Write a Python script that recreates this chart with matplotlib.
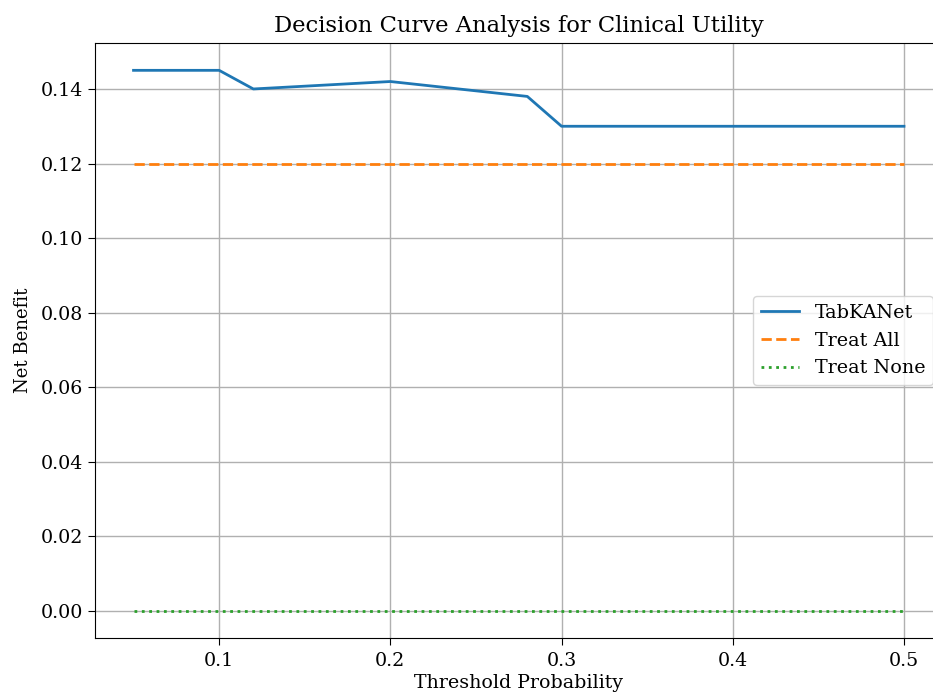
import matplotlib
matplotlib.use("Agg")
import matplotlib.pyplot as plt
import numpy as np

plt.rcParams['font.family'] = ['DejaVu Serif']

thresholds = [0.05, 0.10, 0.12, 0.20, 0.28, 0.30, 0.50]
tabkanet_nb = [0.145, 0.145, 0.140, 0.142, 0.138, 0.130, 0.130]
treat_all_x = [0.05, 0.50]
treat_all_nb = [0.12, 0.12]
treat_none_x = [0.05, 0.50]
treat_none_nb = [0.0, 0.0]

fig = plt.figure(figsize=(9.33, 6.92), dpi=100)
ax = fig.add_axes([95/933, 54/692, 847.5/933, 594.7/692])

ax.plot(thresholds, tabkanet_nb, color='#1f77b4', lw=2, label='TabKANet')
ax.plot(treat_all_x, treat_all_nb, color='#ff7f0e', lw=2, ls='--', label='Treat All')
ax.plot(treat_none_x, treat_none_nb, color='#2ca02c', lw=2, ls=':', label='Treat None')

ax.set_xticks([0.1, 0.2, 0.3, 0.4, 0.5])
ax.set_yticks(np.arange(0, 0.141, 0.02))
ax.yaxis.set_major_formatter(matplotlib.ticker.FormatStrFormatter('%.2f'))
ax.tick_params(labelsize=13.7, length=5)
ax.tick_params(axis='x', pad=5)
ax.grid(True, color='#b0b0b0', lw=1)
ax.set_xlabel('Threshold Probability', fontsize=13.7, labelpad=3)
ax.set_ylabel('Net Benefit', fontsize=13, labelpad=6)
ax.set_title('Decision Curve Analysis for Clinical Utility', fontsize=16.3, pad=8)
ax.legend(loc='center right', fontsize=13.8)

fig.savefig('out.png', dpi=100)
